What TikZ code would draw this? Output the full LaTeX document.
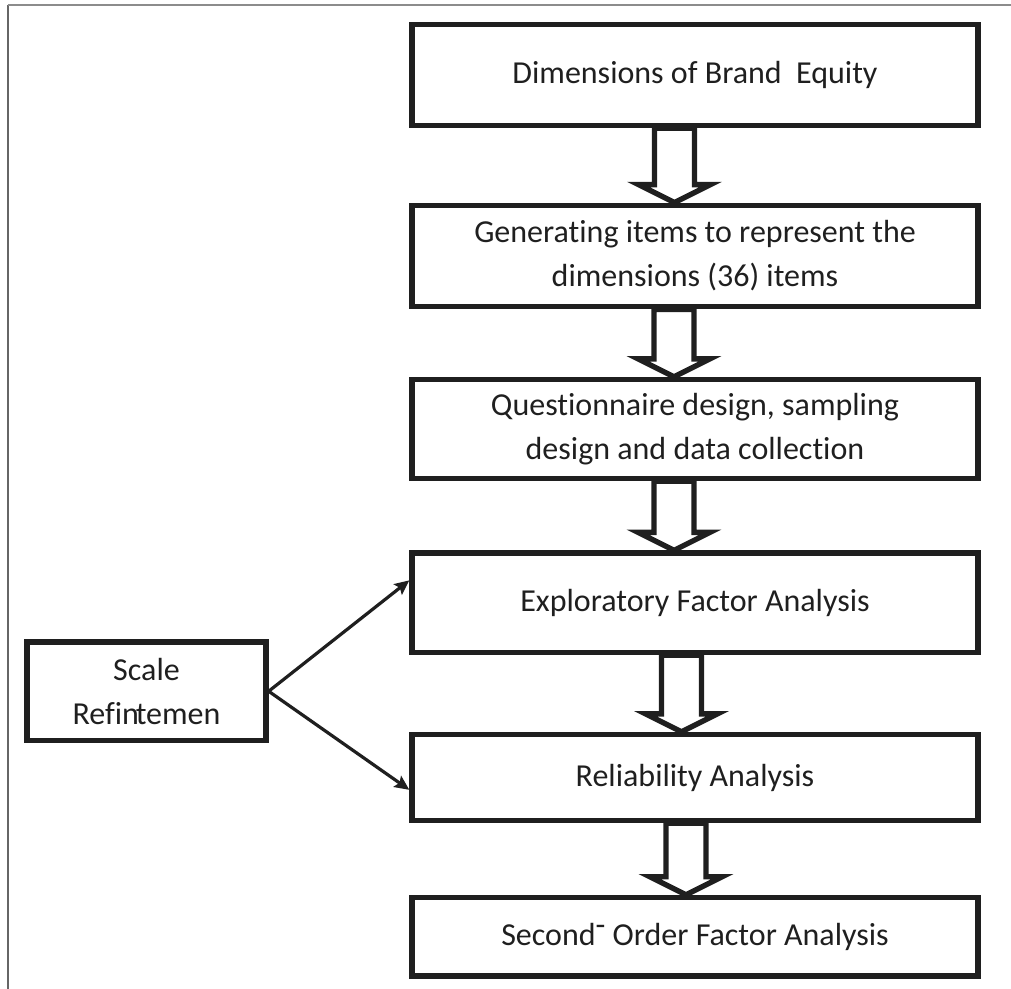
\documentclass[tikz,border=0pt]{standalone}
\usepackage{fontspec}
\setmainfont{Carlito}[Ligatures=NoCommon]
\usepackage{tikz}
\usetikzlibrary{arrows.meta, calc}

\begin{document}
\begin{tikzpicture}[x=0.75pt, y=-0.75pt, line join=miter,
    stage/.style={draw=black!88, line width=4pt, minimum width=424.5pt, inner sep=0pt,
      align=center, text=black!88, font=\fontsize{24}{33}\selectfont},
    sidebox/.style={stage, minimum width=179.25pt, minimum height=73.9pt},
    hollow/.style={draw=black!88, line width=4pt},
    link/.style={draw=black!88, line width=2.4pt, -{Stealth[length=11pt, width=10pt, inset=2pt]}}]
  \useasboundingbox (0,0) rectangle (1011,989);
  % frame of the page, top and left only
  \draw[black!60, line width=1.5pt] (7.5,989) -- (7.5,5);
  \draw[black!45, line width=1.1pt] (7.5,5) -- (1011,5);

  \node[stage, minimum height=75.75pt] (dim) at (695,75) {Dimensions of Brand~ Equity};
  \node[stage, minimum height=76.1pt] (gen) at (695,256) {Generating items to represent the\\dimensions (36) items};
  \node[stage, minimum height=74.25pt] (quest) at (695,429) {Questionnaire design, sampling\\design and data collection};
  \node[stage, minimum height=74.6pt] (efa) at (695,602.75) {Exploratory Factor Analysis};
  \node[stage, minimum height=64.5pt] (rel) at (695,777.5) {Reliability Analysis};
  \node[stage, minimum height=58.9pt] (sofa) at (695,936.75) {Second\raisebox{0.3em}{-} Order Factor Analysis};
  \node[sidebox] (scale) at (146.5,691.25) {Scale\\Refin\kern-0.1em temen};

  % hollow block arrows between the stages
  \foreach \a/\b/\xa in {dim/gen/674.5, gen/quest/674, quest/efa/674, efa/rel/681.5, rel/sofa/686} {
    \draw[hollow] let \p1=(\a.south), \p2=(\b.north), \p3=(\xa,0) in
      ({\x3-15pt},\y1) -- ({\x3-15pt},{\y2+13.5pt}) -- ({\x3-27pt},{\y2+13.5pt})
      -- (\x3,\y2) -- ({\x3+27pt},{\y2+13.5pt}) -- ({\x3+15pt},{\y2+13.5pt})
      -- ({\x3+15pt},\y1) -- cycle;
  }

  \draw[link] (scale.east) -- ($(efa.north west)+(0,30)$);
  \draw[link] (scale.east) -- ($(rel.north west)+(0,58)$);
\end{tikzpicture}
\end{document}
